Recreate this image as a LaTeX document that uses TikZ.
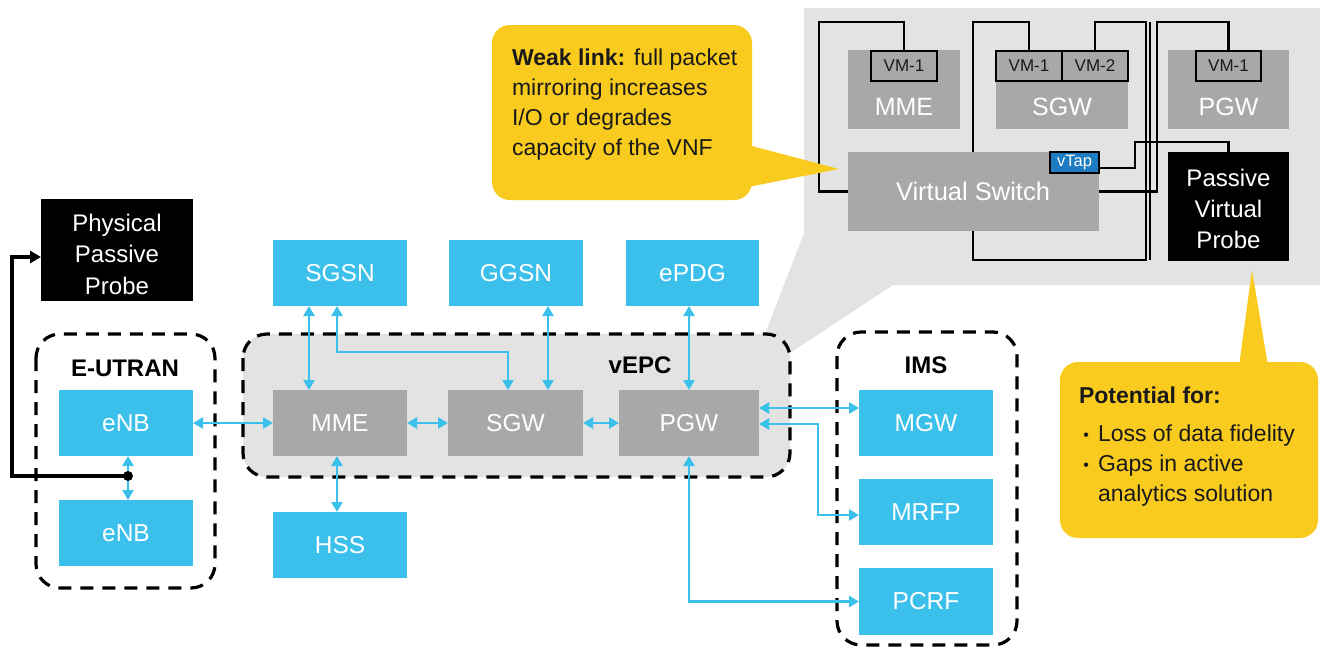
\documentclass[tikz,border=0pt]{standalone}
\usepackage{fontspec}
\setmainfont{Liberation Sans}
\usetikzlibrary{arrows.meta}

\definecolor{epcblue}{HTML}{3BBFEB}
\definecolor{boxgray}{HTML}{A8A8A8}
\definecolor{panelgray}{HTML}{E3E3E3}
\definecolor{noteyellow}{HTML}{F9CB1E}
\definecolor{tapblue}{HTML}{1D7CC2}
\definecolor{ink}{HTML}{1A1A1A}

\begin{document}
\begin{tikzpicture}[x=1pt,y=-1pt,
  every node/.style={inner sep=0pt, outer sep=0pt},
  bluebox/.style={fill=epcblue, text=white, font=\fontsize{24.5}{28}\selectfont,
    minimum width=134pt, minimum height=66pt},
  graybox/.style={fill=boxgray, text=white, font=\fontsize{24.5}{28}\selectfont,
    minimum width=134pt, minimum height=66pt},
  pbox/.style={fill=boxgray},
  plabel/.style={text=white, font=\fontsize{25}{28}\selectfont},
  probebox/.style={fill=black},
  probetext/.style={text=white, align=center, font=\fontsize{24}{31.5}\selectfont},
  vmbox/.style={draw=black, line width=2pt, fill=boxgray, text=ink,
    font=\fontsize{17}{18}\selectfont, minimum height=30pt},
  group/.style={draw=black, line width=3.2pt, dash pattern=on 13pt off 9pt,
    rounded corners=24pt},
  grouplabel/.style={text=black, font=\bfseries\fontsize{24}{28}\selectfont},
  link/.style={draw=epcblue, line width=2.6pt,
    {Triangle[length=10pt,width=11pt]}-{Triangle[length=10pt,width=11pt]}},
  wire/.style={draw=black, line width=2.4pt},
  probelink/.style={draw=black, line width=3.6pt, -{Triangle[length=11pt,width=12pt]}},
  notetext/.style={text=ink, anchor=base west, font=\fontsize{23}{30}\selectfont},
]
\useasboundingbox (0,0) rectangle (1320,651);

% ---------- virtualisation panel with its pointer towards the vEPC ----------
\fill[panelgray] (804,8) -- (1320,8) -- (1320,285) -- (893,285) -- (790,353)
  -- (790,390) -- (765,390) -- (765,334) -- (804,233) -- cycle;

% ---------- vEPC group ----------
\fill[panelgray, rounded corners=24pt] (243,334) rectangle (790,477);
\draw[group] (243,334) rectangle (790,477);
\node[grouplabel] (vepclabel) at (640,365) {vEPC};

% ---------- E-UTRAN and IMS groups ----------
\draw[group] (36,334) rectangle (215,588);
\node[grouplabel] (eutranlabel) at (125,368) {E-UTRAN};
\draw[group] (837,332) rectangle (1017,645);
\node[grouplabel] (imslabel) at (926,365) {IMS};

% ---------- core nodes ----------
\node[bluebox] (enb1) at (126,423) {eNB};
\node[bluebox] (enb2) at (126,533) {eNB};
\node[bluebox] (sgsn) at (340,273) {SGSN};
\node[bluebox] (ggsn) at (516,273) {GGSN};
\node[bluebox, minimum width=133pt] (epdg) at (692.5,273) {ePDG};
\node[graybox] (mme) at (340,423) {MME};
\node[graybox, minimum width=135pt] (sgw) at (515.5,423) {SGW};
\node[graybox, minimum width=140pt] (pgw) at (689,423) {PGW};
\node[bluebox] (hss) at (340,545) {HSS};
\node[bluebox] (mgw) at (926,423) {MGW};
\node[bluebox] (mrfp) at (926,512) {MRFP};
\node[bluebox, minimum height=67pt] (pcrf) at (926,601.5) {PCRF};

% ---------- physical probe ----------
\node[probebox, minimum width=152pt, minimum height=102pt] (ppp) at (117,250) {};
\node[probetext] (ppptext) at (117,254) {Physical\\Passive\\Probe};

% ---------- blue interfaces ----------
\draw[link] (enb1.east) -- (mme.west);
\draw[link] (mme.east) -- (sgw.west);
\draw[link] (sgw.east) -- (pgw.west);
\draw[link] ([xshift=-31pt]sgsn.south) -- ([xshift=-31pt]mme.north);
\draw[link] ([xshift=-3pt]sgsn.south) -- ++(0,46) -| ([xshift=-7.5pt]sgw.north);
\draw[link] ([xshift=32pt]ggsn.south) -- ([xshift=32.5pt]sgw.north);
\draw[link] (epdg.south -| pgw.north) -- (pgw.north);
\draw[link] ([xshift=-3pt]mme.south) -- ([xshift=-3pt]hss.north);
\draw[link] ([yshift=15pt]pgw.east) -- ([yshift=15pt]mgw.west);
\draw[link] ([yshift=-1pt]pgw.east) -- ++(59,0) |- ([yshift=-3pt]mrfp.west);
\draw[link] (pgw.south) |- (pcrf.west);
\draw[link] ([xshift=2pt]enb1.south) -- ([xshift=2pt]enb2.north);

% ---------- tap towards the physical probe ----------
\coordinate (tap) at (128,476);
\coordinate (tapbend) at (12,257);
\draw[probelink] (tap) -| (tapbend) -- ([yshift=-7pt]ppp.west);
\fill[black] (tap) circle (5pt);

% ---------- virtual switch wiring ----------
\coordinate (mmeloop) at (819,22);
\coordinate (sgwloop) at (973,22);
\coordinate (sgwloopb) at (1146,22);
\coordinate (pgwloop) at (1157,22);
\coordinate (tapbendv) at (1135,142);
\node[vmbox, minimum width=66pt] (pmmevm) at (904,66) {VM-1};
\node[vmbox, minimum width=66pt] (psgwvm1) at (1029,66) {VM-1};
\node[vmbox, minimum width=66pt] (psgwvm2) at (1095,66) {VM-2};
\node[vmbox, minimum width=65pt] (ppgwvm) at (1228.5,66) {VM-1};
\node[pbox, minimum width=251pt, minimum height=79pt] (pswitch) at (973,191.5) {};
\node[probebox, minimum width=121pt, minimum height=109pt] (vprobe) at (1228.5,206.5) {};

\draw[wire] (pmmevm.north) |- (mmeloop) |- (pswitch.west);
\draw[wire] (psgwvm1.north) |- (sgwloop) -- (pswitch.north);
\draw[wire] (pswitch.south) -- ++(0,29) -| (sgwloopb) -| (psgwvm2.north);
\draw[wire] (ppgwvm.north) |- (pgwloop) |- (pswitch.east);
\draw[wire] (1150,22) -- (1150,260);

% panel boxes drawn over the wiring
\node[pbox, minimum width=112pt, minimum height=79pt] (pmme) at (904,89.5) {};
\node[pbox, minimum width=132pt, minimum height=79pt] (psgw) at (1062,89.5) {};
\node[pbox, minimum width=121pt, minimum height=79pt] (ppgw) at (1228.5,89.5) {};
\node[vmbox, minimum width=66pt] at (pmmevm) {VM-1};
\node[vmbox, minimum width=66pt] at (psgwvm1) {VM-1};
\node[vmbox, minimum width=66pt] at (psgwvm2) {VM-2};
\node[vmbox, minimum width=65pt] at (ppgwvm) {VM-1};
\node[plabel] (pmmetext) at (904,107) {MME};
\node[plabel] (psgwtext) at (1062,107) {SGW};
\node[plabel] (ppgwtext) at (1228.5,107) {PGW};
\node[plabel, font=\fontsize{25.5}{28}\selectfont] (pswitchtext) at (973,191) {Virtual Switch};
\node[fill=tapblue, draw=black, line width=1.2pt, text=white, font=\fontsize{16.5}{18}\selectfont,
  minimum width=49pt, minimum height=21pt] (vtap) at (1074.5,162.5) {vTap};
\draw[wire] ([yshift=-5.5pt]vtap.east) -| (tapbendv) -| (vprobe.north);
\node[probetext, font=\fontsize{24}{31}\selectfont] (vprobetext) at (1228.5,209) {Passive\\Virtual\\Probe};

% ---------- callouts ----------
\fill[noteyellow, rounded corners=18pt] (492,25) rectangle (752,200);
\fill[noteyellow] (748,145) -- (839,169) -- (748,187) -- cycle;
\node[notetext] (weak1) at (512,65) {\textbf{Weak link:} full packet};
\node[notetext] (weak2) at (512,95) {mirroring increases};
\node[notetext] (weak3) at (512,125) {I/O or degrades};
\node[notetext] (weak4) at (512,155) {capacity of the VNF};

\fill[noteyellow, rounded corners=18pt] (1060,362) rectangle (1318,538);
\fill[noteyellow] (1239,366) -- (1252,270) -- (1268,366) -- cycle;
\node[notetext] (pot0) at (1079,403) {\textbf{Potential for:}};
\node[notetext, anchor=base east] (bul1) at (1089,441) {\fontsize{16}{16}\selectfont\raisebox{1pt}{•}};
\node[notetext] (pot1) at (1098,441) {Loss of data fidelity};
\node[notetext, anchor=base east] (bul2) at (1089,471) {\fontsize{16}{16}\selectfont\raisebox{1pt}{•}};
\node[notetext] (pot2) at (1098,471) {Gaps in active};
\node[notetext] (pot3) at (1098,501) {analytics solution};
\end{tikzpicture}
\end{document}
